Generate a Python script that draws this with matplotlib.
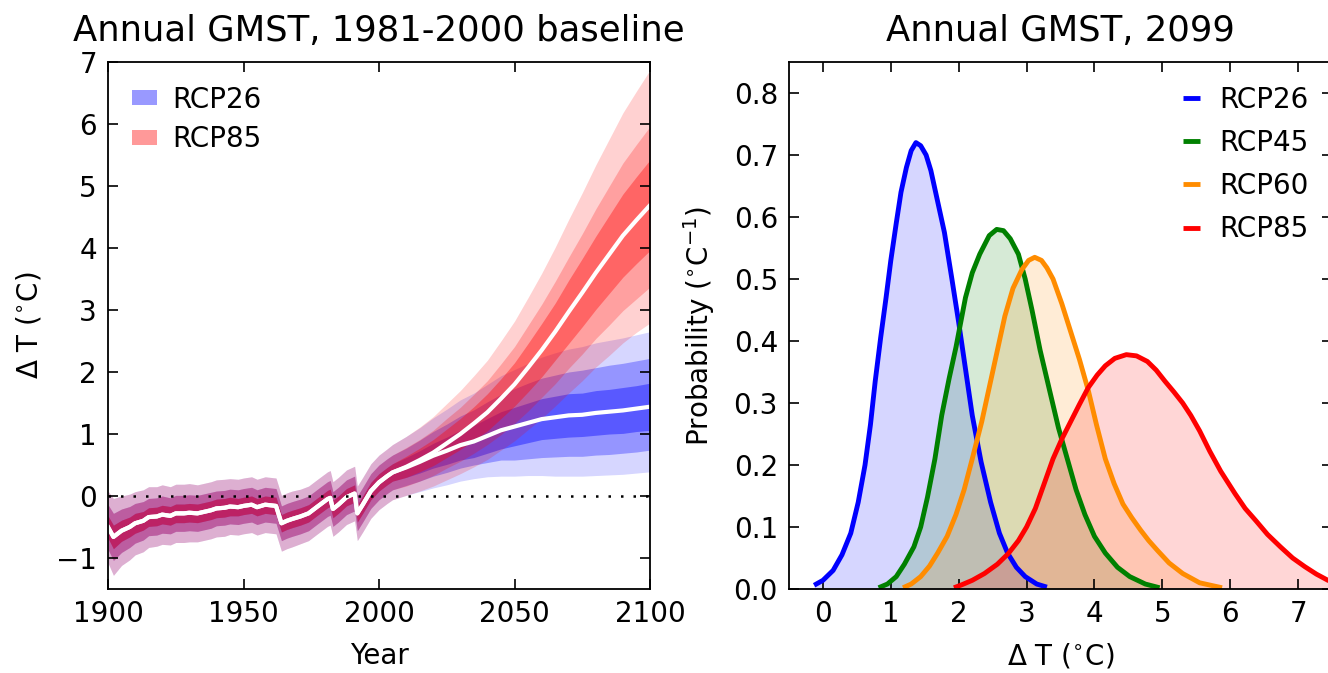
import matplotlib
matplotlib.use("Agg")
import matplotlib.pyplot as plt
from matplotlib.patches import Patch
import numpy as np

# ---------------- data: left panel (time series) ----------------
hist_years = [1900,1902,1905,1908,1910,1913,1915,1918,1920,1923,1925,1928,1930,1933,1935,1938,
              1940,1943,1945,1948,1950,1953,1955,1958,1962,1964,1966,1968,1971,1974,1977,1981,
              1982,1983,1985,1988,1991,1992,1994,1997,2000,2003]
hist_med = [-0.50,-0.66,-0.56,-0.50,-0.44,-0.40,-0.34,-0.33,-0.30,-0.32,-0.28,-0.28,-0.27,-0.28,
            -0.26,-0.23,-0.20,-0.19,-0.17,-0.18,-0.16,-0.14,-0.18,-0.14,-0.16,-0.44,-0.40,-0.37,
            -0.33,-0.28,-0.18,-0.05,-0.03,-0.21,-0.14,-0.02,0.04,-0.28,-0.14,0.08,0.22,0.32]
hist_out = [0.58,0.62,0.56,0.53,0.51,0.50,0.49,0.48,0.48,0.47,0.47,0.47,0.47,0.46,0.46,0.46,
            0.46,0.46,0.45,0.45,0.45,0.45,0.45,0.45,0.45,0.45,0.45,0.45,0.44,0.44,0.44,0.44,
            0.44,0.44,0.44,0.44,0.44,0.44,0.44,0.44,0.44,0.44]
hist_mid = [0.36,0.38,0.35,0.33,0.32,0.31,0.30,0.30,0.30,0.29,0.29,0.29,0.29,0.29,0.29,0.29,
            0.28,0.28,0.28,0.28,0.28,0.28,0.28,0.28,0.28,0.28,0.28,0.28,0.28,0.28,0.28,0.28,
            0.28,0.28,0.28,0.28,0.28,0.28,0.28,0.28,0.28,0.28]
hist_in = [0.18,0.19,0.17,0.16,0.16,0.15,0.15,0.15,0.15,0.15,0.15,0.15,0.15,0.15,0.15,0.15,
           0.15,0.15,0.15,0.14,0.14,0.14,0.14,0.14,0.14,0.14,0.14,0.14,0.14,0.14,0.14,0.14,
           0.14,0.14,0.14,0.14,0.14,0.14,0.14,0.14,0.14,0.14]

fut_years = [2005,2010,2015,2020,2025,2030,2035,2040,2045,2050,2055,2060,2065,2070,2075,2080,
             2085,2090,2095,2100]

r26_med    = [0.38,0.46,0.55,0.65,0.73,0.82,0.88,0.97,1.06,1.12,1.18,1.24,1.27,1.30,1.31,1.34,1.36,1.38,1.41,1.44]
r26_out_up = [0.45,0.50,0.55,0.61,0.67,0.73,0.78,0.83,0.88,0.92,0.96,1.00,1.04,1.07,1.10,1.13,1.15,1.17,1.19,1.21]
r26_out_lo = [0.44,0.45,0.48,0.52,0.55,0.58,0.60,0.66,0.74,0.80,0.85,0.91,0.95,0.98,0.99,1.01,1.02,1.03,1.04,1.05]
r26_mid_up = [0.28,0.31,0.35,0.39,0.43,0.47,0.51,0.55,0.58,0.61,0.64,0.66,0.68,0.70,0.72,0.73,0.75,0.76,0.77,0.78]
r26_mid_lo = [0.28,0.29,0.31,0.33,0.35,0.37,0.38,0.43,0.48,0.54,0.58,0.62,0.64,0.66,0.67,0.68,0.69,0.69,0.70,0.70]
r26_in     = [0.14,0.16,0.18,0.20,0.22,0.24,0.26,0.28,0.30,0.31,0.32,0.33,0.34,0.35,0.35,0.36,0.36,0.37,0.37,0.38]

r85_med    = [0.38,0.47,0.58,0.70,0.85,1.00,1.17,1.35,1.57,1.80,2.07,2.35,2.65,2.97,3.28,3.60,3.90,4.20,4.45,4.69]
r85_out_up = [0.45,0.49,0.53,0.58,0.64,0.70,0.77,0.84,0.93,1.02,1.13,1.24,1.36,1.49,1.61,1.74,1.86,1.98,2.08,2.18]
r85_out_lo = [0.44,0.46,0.50,0.54,0.59,0.64,0.70,0.76,0.83,0.91,1.00,1.10,1.20,1.31,1.42,1.52,1.63,1.73,1.81,1.90]
r85_mid_up = [0.28,0.31,0.33,0.36,0.40,0.43,0.47,0.51,0.56,0.61,0.68,0.74,0.81,0.88,0.95,1.03,1.10,1.17,1.22,1.27]
r85_mid_lo = [0.28,0.31,0.34,0.37,0.40,0.44,0.48,0.52,0.58,0.63,0.70,0.76,0.84,0.91,0.99,1.06,1.14,1.21,1.27,1.32]
r85_in     = [0.14,0.17,0.19,0.21,0.23,0.25,0.27,0.30,0.32,0.35,0.39,0.43,0.46,0.51,0.55,0.59,0.63,0.67,0.70,0.73]

# ---------------- data: right panel (2099 distributions) ----------------
pdf26_x = [-0.13,0.00,0.15,0.28,0.41,0.52,0.62,0.70,0.77,0.85,0.93,1.00,1.08,1.15,1.23,1.30,1.37,
           1.44,1.52,1.59,1.68,1.79,1.90,2.00,2.10,2.20,2.33,2.47,2.60,2.72,2.85,2.98,3.15,3.30]
pdf26_y = [0.006,0.014,0.03,0.055,0.09,0.14,0.20,0.265,0.335,0.405,0.47,0.53,0.59,0.64,0.68,0.707,
           0.72,0.715,0.70,0.675,0.63,0.575,0.50,0.43,0.355,0.28,0.205,0.14,0.09,0.058,0.035,0.02,
           0.008,0.003]
pdf45_x = [0.82,0.95,1.08,1.20,1.34,1.44,1.54,1.65,1.75,1.86,1.96,2.03,2.10,2.20,2.31,2.45,2.56,
           2.66,2.76,2.88,2.98,3.08,3.20,3.34,3.47,3.60,3.73,3.86,4.00,4.16,4.34,4.52,4.75,4.96]
pdf45_y = [0.002,0.008,0.02,0.04,0.068,0.10,0.148,0.21,0.28,0.34,0.39,0.43,0.47,0.51,0.54,0.57,
           0.58,0.578,0.565,0.54,0.50,0.45,0.385,0.32,0.26,0.21,0.16,0.12,0.085,0.058,0.035,0.02,
           0.008,0.002]
pdf60_x = [1.18,1.30,1.44,1.57,1.69,1.83,1.96,2.08,2.20,2.34,2.47,2.58,2.68,2.80,2.93,3.03,3.12,
           3.22,3.30,3.39,3.52,3.65,3.78,3.91,4.03,4.16,4.29,4.42,4.55,4.68,4.80,4.93,5.10,5.30,
           5.55,5.88]
pdf60_y = [0.002,0.008,0.02,0.037,0.058,0.085,0.12,0.16,0.21,0.27,0.335,0.39,0.44,0.485,0.515,
           0.53,0.535,0.53,0.518,0.50,0.46,0.415,0.37,0.32,0.265,0.21,0.17,0.137,0.115,0.095,
           0.078,0.062,0.042,0.025,0.01,0.002]
pdf85_x = [1.93,2.05,2.20,2.38,2.57,2.73,2.88,3.00,3.13,3.26,3.39,3.52,3.65,3.78,3.91,4.04,4.16,
           4.30,4.47,4.62,4.78,4.91,5.04,5.17,5.30,5.42,5.55,5.70,5.86,6.07,6.22,6.38,6.55,6.74,
           6.92,7.10,7.27,7.44,7.60]
pdf85_y = [0.002,0.007,0.014,0.025,0.04,0.057,0.078,0.10,0.13,0.17,0.21,0.242,0.27,0.298,0.325,
           0.345,0.36,0.372,0.378,0.376,0.367,0.353,0.335,0.318,0.30,0.28,0.255,0.222,0.19,0.154,
           0.13,0.11,0.088,0.068,0.05,0.036,0.024,0.014,0.009]

scen_labels = ["RCP26", "RCP45", "RCP60", "RCP85"]
scen_colors = ["blue", "green", "darkorange", "red"]

# ---------------- figure ----------------
plt.rcParams['font.family'] = ['DejaVu Sans']
plt.rcParams['mathtext.fontset'] = 'dejavusans'
fig = plt.figure(figsize=(13.28, 6.73), dpi=100)
fig.patch.set_facecolor('white')

axL = fig.add_axes([108/1328, 84/673, 542/1328, 527/673])
axR = fig.add_axes([789/1328, 84/673, 543/1328, 527/673])

FS = 20
TFS = 25.5

years = np.array(hist_years + fut_years)

def draw_scen(ax, color, med_f, out_up, out_lo, mid_up, mid_lo, inn, alphas):
    med = np.array(hist_med + med_f)
    o_hi = med + np.array(hist_out + out_up)
    o_lo = med - np.array(hist_out + out_lo)
    m_hi = med + np.array(hist_mid + mid_up)
    m_lo = med - np.array(hist_mid + mid_lo)
    i_hi = med + np.array(hist_in + inn)
    i_lo = med - np.array(hist_in + inn)
    ax.fill_between(years, o_lo, o_hi, color=color, alpha=alphas[0], lw=0)
    ax.fill_between(years, m_lo, m_hi, color=color, alpha=alphas[1], lw=0)
    ax.fill_between(years, i_lo, i_hi, color=color, alpha=alphas[2], lw=0)
    return med

med26 = draw_scen(axL, (0, 0, 1), r26_med, r26_out_up, r26_out_lo, r26_mid_up, r26_mid_lo, r26_in,
                  (0.16, 0.30, 0.40))
med85 = draw_scen(axL, (1, 0, 0), r85_med, r85_out_up, r85_out_lo, r85_mid_up, r85_mid_lo, r85_in,
                  (0.18, 0.23, 0.37))
axL.plot(years, med26, color='white', lw=3)
axL.plot(years, med85, color='white', lw=3)
axL.plot([1900, 2100], [0, 0], color='black', linestyle=(0, (1, 4)), lw=1.8)

axL.set_xlim(1900, 2100)
axL.set_ylim(-1.5, 7)
axL.set_xticks([1900, 1950, 2000, 2050, 2100])
axL.set_yticks([-1, 0, 1, 2, 3, 4, 5, 6, 7])
axL.set_xlabel("Year", fontsize=FS, labelpad=10)
axL.set_ylabel(r"$\Delta$ T ($^{\circ}$C)", fontsize=FS, labelpad=9)
axL.set_title("Annual GMST, 1981-2000 baseline", fontsize=TFS, pad=15)
handles = [Patch(facecolor=(0.6, 0.6, 1.0), edgecolor='none', label="RCP26"),
           Patch(facecolor=(1.0, 0.6, 0.6), edgecolor='none', label="RCP85")]
axL.legend(handles=handles, loc='upper left', frameon=False, fontsize=FS,
           handlelength=0.9, handleheight=0.45, labelspacing=0.42, borderaxespad=0.45,
           handletextpad=0.55)

# right panel
pdfs = [(pdf26_x, pdf26_y), (pdf45_x, pdf45_y), (pdf60_x, pdf60_y), (pdf85_x, pdf85_y)]
for (px, py), c in zip(pdfs, scen_colors):
    axR.fill_between(px, 0, py, color=c, alpha=0.16, lw=0)
for (px, py), c, lab in zip(pdfs, scen_colors, scen_labels):
    axR.plot(px, py, color=c, lw=3.5, label=lab, solid_capstyle='butt', solid_joinstyle='round')

axR.set_xlim(-0.5, 7.5)
axR.set_ylim(0, 0.85)
axR.set_xticks([0, 1, 2, 3, 4, 5, 6, 7])
axR.set_yticks([0.0, 0.1, 0.2, 0.3, 0.4, 0.5, 0.6, 0.7, 0.8])
axR.set_yticklabels(["0.0", "0.1", "0.2", "0.3", "0.4", "0.5", "0.6", "0.7", "0.8"])
axR.set_xlabel(r"$\Delta$ T ($^{\circ}$C)", fontsize=FS, labelpad=10)
axR.set_ylabel(r"Probability ($^{\circ}$C$^{-1}$)", fontsize=FS, labelpad=12)
axR.set_title("Annual GMST, 2099", fontsize=TFS, pad=15)
axR.legend(loc='upper right', frameon=False, fontsize=FS, handlelength=0.6,
           handletextpad=0.7, labelspacing=0.55, borderaxespad=0.45)

for ax in (axL, axR):
    ax.tick_params(direction='in', length=7, width=1.2, top=True, right=True,
                   labelsize=FS, pad=8)
    for s in ax.spines.values():
        s.set_linewidth(1.3)

fig.savefig("out.png", dpi=100, facecolor='white')
